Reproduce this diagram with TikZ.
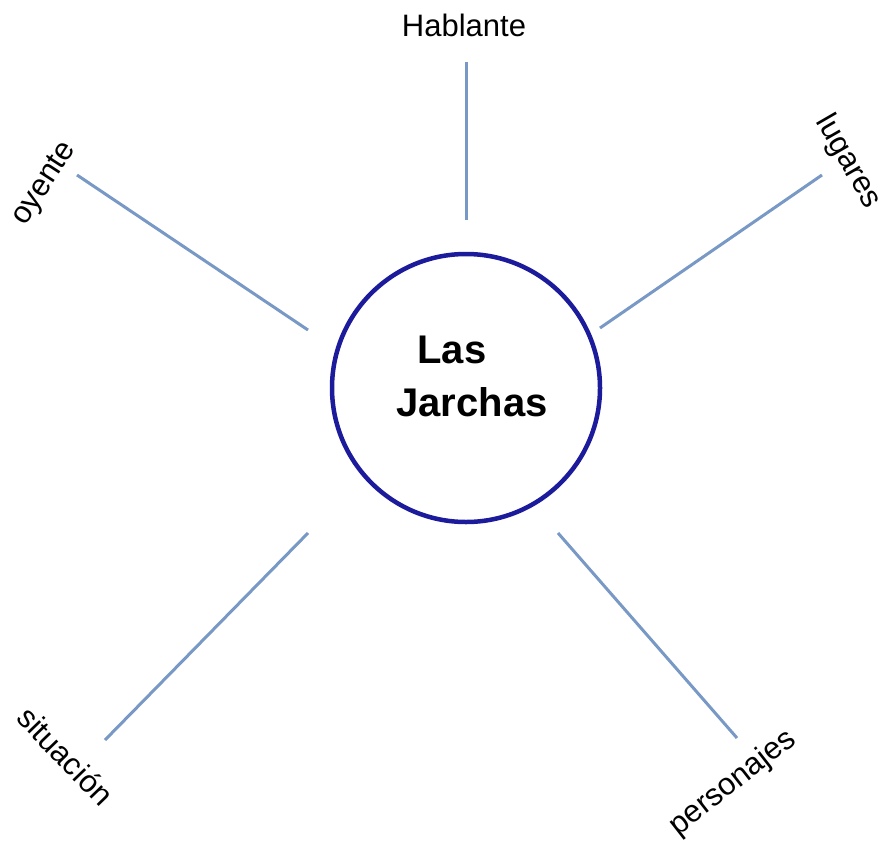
\documentclass[tikz,border=0pt]{standalone}
\usepackage{fontspec}
\setmainfont{Liberation Sans}
\usepackage{tikz}
\usetikzlibrary{positioning,calc}
\definecolor{ring}{HTML}{1B1B9B}
\definecolor{spokeblue}{HTML}{7898C6}
\tikzset{
  hub/.style={circle,draw=ring,line width=4.5pt,minimum size=268pt,inner sep=0pt},
  title/.style={align=left,font=\fontsize{40}{53}\selectfont\bfseries,inner sep=0pt},
  leaf/.style={font=\fontsize{31}{37}\selectfont,inner sep=0pt},
  spoke/.style={draw=spokeblue,line width=3pt}
}

\begin{document}
\begin{tikzpicture}[x=1pt,y=-1pt]
  \useasboundingbox (0,0) rectangle (885,848);

  \node[hub] (hub) at (466,388) {};
  \node[title] (title) at (472,376) {\hspace*{21pt}Las\\Jarchas};

  \node[leaf] (hablante) at (464,25) {Hablante};
  \node[leaf,rotate=57] (oyente) at (45,184) {oyente};
  \node[leaf,rotate=-60] (lugares) at (848,162) {lugares};
  \node[leaf,rotate=-46] (situacion) at (66,756) {situación};
  \node[leaf,rotate=38] (personajes) at (733,783) {personajes};

  \coordinate (hab-out) at (466,62);
  \coordinate (hab-in) at (466,220);
  \coordinate (oye-out) at (77,175);
  \coordinate (oye-in) at (308,330);
  \coordinate (lug-out) at (822,175);
  \coordinate (lug-in) at (600,328);
  \coordinate (sit-out) at (105,740);
  \coordinate (sit-in) at (308,533);
  \coordinate (per-out) at (737,738);
  \coordinate (per-in) at (558,533);

  \draw[spoke] (hab-in) -- (hab-out);
  \draw[spoke] (oye-in) -- (oye-out);
  \draw[spoke] (lug-in) -- (lug-out);
  \draw[spoke] (sit-in) -- (sit-out);
  \draw[spoke] (per-in) -- (per-out);
\end{tikzpicture}
\end{document}
